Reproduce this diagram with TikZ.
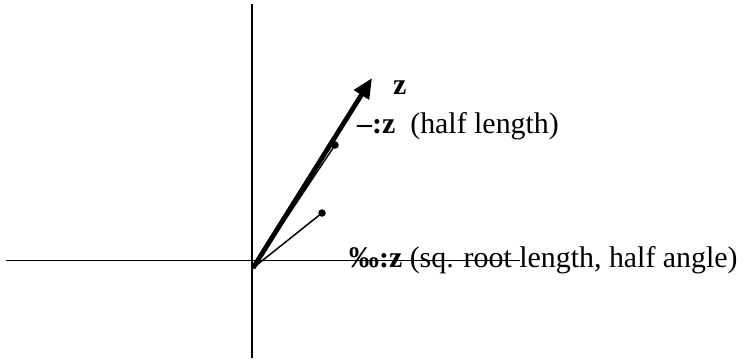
\documentclass[tikz,border=0pt]{standalone}
\usepackage{fontspec}
\setmainfont{Liberation Serif}
\usetikzlibrary{arrows.meta}
\begin{document}
\begin{tikzpicture}[x=1bp,y=-1bp,
  axis/.style={line width=1.6bp},
  vec/.style={line width=4.8bp,-{Triangle[length=20bp,width=17bp]}},
  thinvec/.style={line width=1.5bp},
  dot/.style={circle,fill,inner sep=0pt,minimum size=7.5bp},
  lbl/.style={anchor=base west,inner sep=0pt,font=\fontsize{30}{34}\selectfont}]
\useasboundingbox (0,0) rectangle (755,363);
% axes
\coordinate (xl) at (6,260.5);
\coordinate (xr) at (520,260.5);
\coordinate (yt) at (251.7,4);
\coordinate (yb) at (251.7,358);
\draw[axis] (xl) -- (xr);
\draw[axis] (yt) -- (yb);
% vectors
\coordinate (o) at (253,268);
\coordinate (zt) at (372,78);
\node[dot] (h) at (335,145) {};
\node[dot] (s) at (322,213) {};
\draw[thinvec] (o) -- (h.center);
\draw[thinvec] (o) -- (s.center);
\draw[vec] (o) -- (zt);
% labels
\node[lbl] (zl) at (393,94) {\textbf{z}};
\node[lbl] (hl) at (357,133) {\textbf{–:z}\ \ (half length)};
\node[lbl] (sl) at (349,267) {\textbf{‰:z} (sq. root length, half angle)};
\end{tikzpicture}
\end{document}
